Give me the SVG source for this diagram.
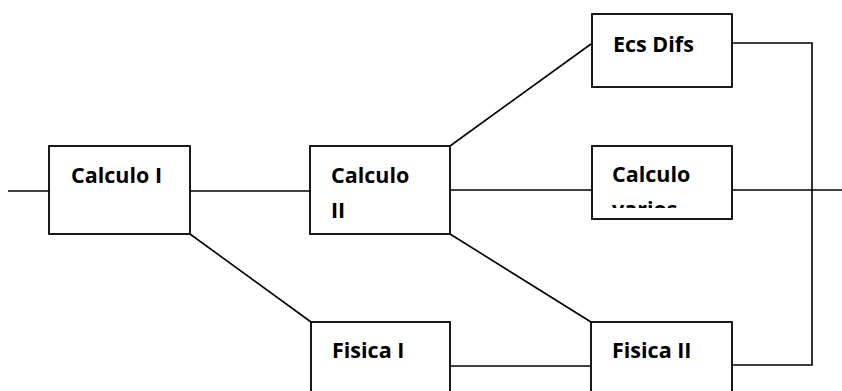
<svg xmlns="http://www.w3.org/2000/svg" width="842" height="391" viewBox="0 0 842 391">
<style>
.box{fill:#fff;stroke:#000;stroke-width:1.8}
.ln{fill:none;stroke:#000;stroke-width:1.6}
.t{font-family:"Open Sans","Liberation Sans",sans-serif;font-weight:bold;font-size:21.5px;fill:#000}
</style>
<defs>
<clipPath id="cv"><rect x="592" y="146" width="140" height="62"/></clipPath>
</defs>
<rect width="842" height="391" fill="#fff"/>
<g id="connectors">
<line class="ln" x1="8" y1="191" x2="49" y2="191"/>
<line class="ln" x1="190" y1="191" x2="310" y2="191"/>
<line class="ln" x1="190" y1="234" x2="311" y2="322"/>
<line class="ln" x1="450" y1="190" x2="592" y2="190"/>
<line class="ln" x1="450" y1="146" x2="591" y2="44"/>
<line class="ln" x1="450" y1="234" x2="591" y2="322"/>
<line class="ln" x1="450" y1="366" x2="591" y2="366"/>
<polyline class="ln" points="732,43 812,43 812,365 732,365"/>
<line class="ln" x1="732" y1="190" x2="842" y2="190"/>
</g>
<g id="calculo1">
<rect class="box" x="49" y="146" width="141" height="88"/>
<text class="t" x="71" y="183">Calculo I</text>
</g>
<g id="calculo2">
<rect class="box" x="310" y="146" width="140" height="88"/>
<text class="t" x="331" y="183">Calculo</text>
<text class="t" x="331" y="218">II</text>
</g>
<g id="ecsdifs">
<rect class="box" x="592" y="14" width="140" height="73"/>
<text class="t" x="613" y="52">Ecs Difs</text>
</g>
<g id="calculovarios">
<rect class="box" x="592" y="146" width="140" height="73"/>
<g clip-path="url(#cv)">
<text class="t" x="612" y="182">Calculo</text>
<text class="t" x="612" y="217">varios</text>
</g>
</g>
<g id="fisica1">
<rect class="box" x="311" y="322" width="139" height="90"/>
<text class="t" x="332" y="358">Fisica I</text>
</g>
<g id="fisica2">
<rect class="box" x="591" y="322" width="141" height="90"/>
<text class="t" x="612" y="358">Fisica II</text>
</g>
</svg>
